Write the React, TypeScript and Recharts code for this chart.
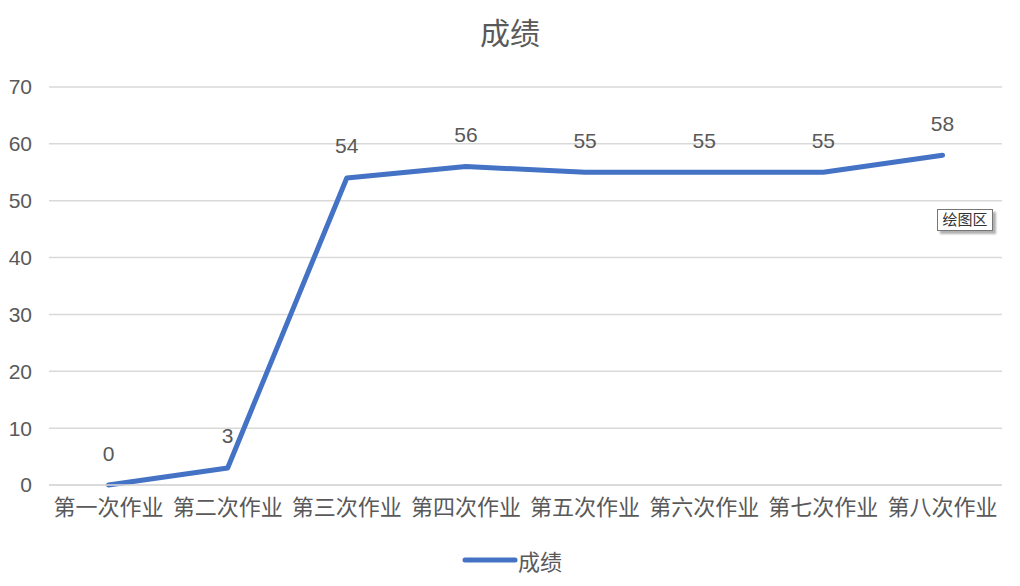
import { CartesianGrid, LabelList, Legend, Line, LineChart, XAxis, YAxis } from "recharts";

const LINE_BLUE = "#4472C4";
const GRID_STROKE = "#D9D9D9";
const TEXT_GREY = "#595959";
const FONT = "'Liberation Sans', 'Noto Sans CJK SC', sans-serif";

const assignments = [
  "第一次作业",
  "第二次作业",
  "第三次作业",
  "第四次作业",
  "第五次作业",
  "第六次作业",
  "第七次作业",
  "第八次作业",
];
const scores = [0, 3, 54, 56, 55, 55, 55, 58];
const yTicks = [0, 10, 20, 30, 40, 50, 60, 70];

const data = assignments.map((name, i) => ({ name, score: scores[i] }));

function ScoreLabel(props: any) {
  const { x, y, value } = props;
  return (
    <text
      x={x}
      y={y - 32}
      textAnchor="middle"
      dominantBaseline="central"
      fill={TEXT_GREY}
      fontSize={21}
      fontFamily={FONT}
    >
      {value}
    </text>
  );
}

function LegendContent() {
  return (
    <div
      style={{
        display: "flex",
        justifyContent: "center",
        alignItems: "center",
        height: 30,
        paddingLeft: 22,
      }}
    >
      <svg width={56} height={10}>
        <line x1={3} y1={5} x2={53} y2={5} stroke={LINE_BLUE} strokeWidth={5} strokeLinecap="round" />
      </svg>
      <span style={{ color: TEXT_GREY, fontSize: 22, fontFamily: FONT }}>成绩</span>
    </div>
  );
}

export default function App() {
  return (
    <div style={{ position: "fixed", left: 0, top: 0, width: 1020, height: 586, background: "#fff" }}>
      <div
        style={{
          position: "absolute",
          top: 12,
          width: 1020,
          textAlign: "center",
          fontSize: 30,
          color: TEXT_GREY,
          fontFamily: FONT,
          lineHeight: "44px",
        }}
      >
        成绩
      </div>
      <LineChart
        width={1020}
        height={586}
        data={data}
        margin={{ top: 87, right: 18, left: 0, bottom: 41 }}
      >
        <CartesianGrid stroke={GRID_STROKE} strokeWidth={1.5} vertical={false} />
        <XAxis
          dataKey="name"
          axisLine={{ stroke: GRID_STROKE, strokeWidth: 1.5 }}
          tickLine={false}
          interval={0}
          tickMargin={8}
          padding={{ left: 59.5, right: 59.5 }}
          tick={{ fill: TEXT_GREY, fontSize: 22, fontFamily: FONT }}
        />
        <YAxis
          domain={[0, 70]}
          ticks={yTicks}
          width={49}
          axisLine={false}
          tickLine={false}
          tickMargin={11}
          tick={{ fill: TEXT_GREY, fontSize: 21, fontFamily: FONT }}
        />
        <Legend
          verticalAlign="bottom"
          content={<LegendContent />}
          wrapperStyle={{ bottom: 11 }}
        />
        <Line
          type="linear"
          dataKey="score"
          name="成绩"
          stroke={LINE_BLUE}
          strokeWidth={5}
          strokeLinecap="round"
          strokeLinejoin="round"
          dot={false}
          activeDot={false}
          isAnimationActive={false}
        >
          <LabelList dataKey="score" content={<ScoreLabel />} />
        </Line>
      </LineChart>
      <div
        style={{
          position: "absolute",
          left: 937,
          top: 209,
          width: 56,
          height: 22,
          boxSizing: "border-box",
          textAlign: "center",
          border: "1px solid #767676",
          background: "#fff",
          boxShadow: "3px 3px 2px #b0b0b0",
          fontSize: 15,
          color: "#333",
          fontFamily: FONT,
          lineHeight: "20px",
        }}
      >
        绘图区
      </div>
    </div>
  );
}
